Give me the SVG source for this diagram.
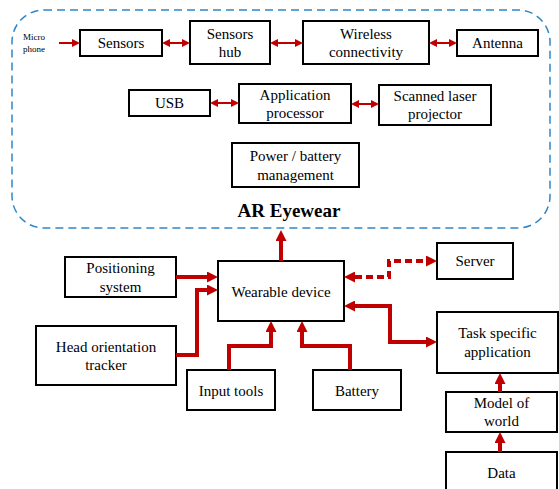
<svg xmlns="http://www.w3.org/2000/svg" width="559" height="489" viewBox="0 0 559 489" font-family="Liberation Serif, Times New Roman, serif">
<style>
.box{fill:#fff;stroke:#000;stroke-width:2}
.t{font-size:15px;fill:#000;text-anchor:middle}
.thin{fill:none;stroke:#c00000;stroke-width:2}
.thick{fill:none;stroke:#c00000;stroke-width:4}
</style>
<defs>
<marker id="ah" markerUnits="userSpaceOnUse" markerWidth="8" markerHeight="8" refX="0" refY="4" orient="auto-start-reverse"><path d="M0,0 L8,4 L0,8 z" fill="#c00000"/></marker>
<marker id="AH" markerUnits="userSpaceOnUse" markerWidth="11" markerHeight="11" refX="0" refY="5.5" orient="auto-start-reverse"><path d="M0,0 L11,5.5 L0,11 z" fill="#c00000"/></marker>
</defs>
<rect x="12" y="10" width="538" height="218" rx="32" fill="none" stroke="#2f86c9" stroke-width="1.5" stroke-dasharray="8,5"/>
<text font-family="Liberation Serif, serif" x="289" y="217" font-size="19" font-weight="bold" text-anchor="middle">AR Eyewear</text>
<g id="microphone"><text font-family="Liberation Serif, serif" x="34" y="40" text-anchor="middle" font-size="9">Micro</text><text font-family="Liberation Serif, serif" x="34" y="52" text-anchor="middle" font-size="9">phone</text></g>
<g id="sensors"><rect class="box" x="80" y="30" width="82" height="26"/><text class="t" x="121" y="48">Sensors</text></g>
<g id="sensors-hub"><rect class="box" x="190" y="21" width="80" height="43"/><text class="t" x="230" y="39">Sensors</text><text class="t" x="230" y="57">hub</text></g>
<g id="wireless"><rect class="box" x="303" y="21" width="126" height="43"/><text class="t" x="366" y="39">Wireless</text><text class="t" x="366" y="57">connectivity</text></g>
<g id="antenna"><rect class="box" x="457" y="30" width="81" height="26"/><text class="t" x="497.5" y="48">Antenna</text></g>
<g id="usb"><rect class="box" x="129" y="90" width="81" height="26"/><text class="t" x="169.5" y="108">USB</text></g>
<g id="app-processor"><rect class="box" x="239" y="84" width="112" height="39"/><text class="t" x="295" y="100">Application</text><text class="t" x="295" y="118">processor</text></g>
<g id="laser"><rect class="box" x="379" y="85" width="112" height="40"/><text class="t" x="435" y="101">Scanned laser</text><text class="t" x="435" y="119">projector</text></g>
<g id="power"><rect class="box" x="232" y="143" width="127" height="44"/><text class="t" x="295.5" y="161">Power / battery</text><text class="t" x="295.5" y="180">management</text></g>
<g id="positioning"><rect class="box" x="65" y="257" width="111" height="40"/><text class="t" x="120.5" y="273">Positioning</text><text class="t" x="120.5" y="292">system</text></g>
<g id="head-tracker"><rect class="box" x="36" y="326" width="140" height="59"/><text class="t" x="106" y="352">Head orientation</text><text class="t" x="106" y="370">tracker</text></g>
<g id="wearable"><rect class="box" x="218" y="261" width="126" height="60"/><text class="t" x="281" y="297">Wearable device</text></g>
<g id="input-tools"><rect class="box" x="187" y="370" width="88" height="40"/><text class="t" x="231" y="396">Input tools</text></g>
<g id="battery"><rect class="box" x="313" y="370" width="88" height="40"/><text class="t" x="357" y="396">Battery</text></g>
<g id="server"><rect class="box" x="437" y="243" width="76" height="36"/><text class="t" x="475" y="266">Server</text></g>
<g id="task-app"><rect class="box" x="437" y="312" width="121" height="61"/><text class="t" x="497.5" y="338">Task specific</text><text class="t" x="497.5" y="357">application</text></g>
<g id="model-world"><rect class="box" x="446" y="392" width="111" height="40"/><text class="t" x="501.5" y="408">Model of</text><text class="t" x="501.5" y="426">world</text></g>
<g id="data"><rect class="box" x="446" y="452" width="111" height="40"/><text class="t" x="501.5" y="478">Data</text></g>
<g id="connectors">
<path class="thin" d="M59,43 H72" marker-end="url(#ah)"/>
<path class="thin" d="M170,43 H182" marker-start="url(#ah)" marker-end="url(#ah)"/>
<path class="thin" d="M278,43 H295" marker-start="url(#ah)" marker-end="url(#ah)"/>
<path class="thin" d="M437,43 H449" marker-start="url(#ah)" marker-end="url(#ah)"/>
<path class="thin" d="M218,103 H231" marker-start="url(#ah)" marker-end="url(#ah)"/>
<path class="thin" d="M359,104 H371" marker-start="url(#ah)" marker-end="url(#ah)"/>
<path class="thick" d="M281,261 V241" marker-end="url(#AH)"/>
<path class="thick" d="M176,277 H207" marker-end="url(#AH)"/>
<path class="thick" d="M176,355 H197 V290 H207" marker-end="url(#AH)"/>
<path class="thick" d="M229,370 V346 H271 V332" marker-end="url(#AH)"/>
<path class="thick" d="M350,370 V346 H302 V332" marker-end="url(#AH)"/>
<path class="thick" d="M355,277 H389 V261 H426" stroke-width="3" stroke-dasharray="7,4" marker-start="url(#AH)" marker-end="url(#AH)"/>
<path class="thick" d="M355,306 H390 V342 H426" marker-start="url(#AH)" marker-end="url(#AH)"/>
<path class="thick" d="M500,452 V443" marker-end="url(#AH)"/>
<path class="thick" d="M500,392 V384" marker-end="url(#AH)"/>
</g>
</svg>
